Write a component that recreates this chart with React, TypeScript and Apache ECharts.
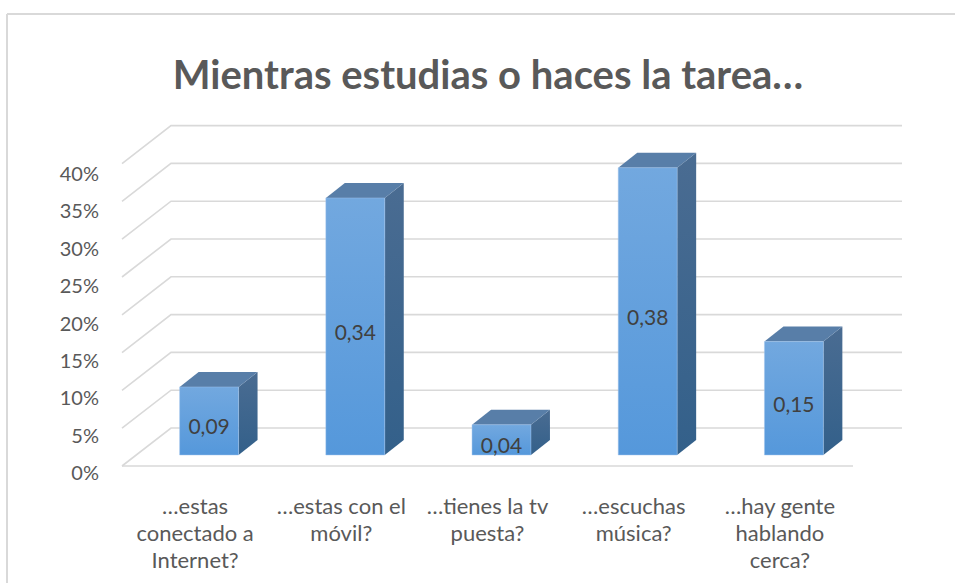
import React, { useEffect, useRef } from "react";
import * as echarts from "echarts";

const categories = [
  "…estas\nconectado a\nInternet?",
  "…estas con el\nmóvil?",
  "…tienes la tv\npuesta?",
  "…escuchas\nmúsica?",
  "…hay gente\nhablando\ncerca?",
];
const values = [0.09, 0.34, 0.04, 0.38, 0.15];
const gridValues = [0, 0.05, 0.1, 0.15, 0.2, 0.25, 0.3, 0.35, 0.4];
const titleText = "Mientras estudias o haces la tarea…";

const FONT = "Lato, 'Open Sans', sans-serif";
// depth vectors (pixel offsets) for the pseudo-3D look
const FRONT = [-14, 11]; // bar plane -> front floor edge
const BACK = [35, -27]; // bar plane -> back wall
const BAR_DEPTH = [19, -15];

export default function App() {
  const ref = useRef<HTMLDivElement>(null);
  useEffect(() => {
    if (!ref.current) return;
    const chart = echarts.init(ref.current, null, { renderer: "svg" });
    const n = categories.length;
    const option: any = {
      animation: false,
      backgroundColor: "#ffffff",
      grid: [
        { left: 136, top: 152.6, width: 731, height: 302.4 },
        { left: 122, top: 173, width: 731, height: 299 },
      ],
      xAxis: [
        { type: "category", gridIndex: 0, data: categories, show: false },
        {
          type: "category",
          gridIndex: 1,
          data: categories,
          axisLine: { show: false },
          axisTick: { show: false },
          axisLabel: {
            interval: 0,
            fontSize: 22,
            lineHeight: 27,
            margin: 20,
            color: "#595959",
            fontFamily: FONT,
          },
        },
      ],
      yAxis: [
        { type: "value", gridIndex: 0, min: 0, max: 0.4, show: false },
        {
          type: "value",
          gridIndex: 1,
          min: 0,
          max: 0.4,
          interval: 0.05,
          axisLine: { show: false },
          axisTick: { show: false },
          splitLine: { show: false },
          axisLabel: {
            margin: 23,
            fontSize: 20,
            color: "#595959",
            fontFamily: FONT,
            formatter: (v: number) => Math.round(v * 100) + "%",
          },
        },
      ],
      series: [
        {
          type: "custom",
          name: "grid",
          xAxisIndex: 0,
          yAxisIndex: 0,
          z: 1,
          silent: true,
          data: gridValues.map((v) => [0, v]),
          renderItem: (params: any, api: any) => {
            const v = api.value(1);
            const p = api.coord([0, v]);
            const band = api.size([1, 0])[0];
            const leftX = p[0] - band / 2;
            const rightX = leftX + n * band;
            const y = p[1];
            const style = { stroke: "#d9d9d9", lineWidth: 1.6, fill: null };
            const children: any[] = [
              {
                type: "polyline",
                shape: {
                  points: [
                    [leftX + FRONT[0], y + FRONT[1]],
                    [leftX + BACK[0], y + BACK[1]],
                    [rightX + BACK[0], y + BACK[1]],
                  ],
                },
                style,
              },
            ];
            if (v === 0) {
              children.push({
                type: "line",
                shape: {
                  x1: leftX + FRONT[0],
                  y1: y + FRONT[1],
                  x2: rightX + FRONT[0],
                  y2: y + FRONT[1],
                },
                style,
              });
            }
            return { type: "group", children };
          },
        },
        {
          type: "custom",
          name: "bars",
          xAxisIndex: 0,
          yAxisIndex: 0,
          z: 5,
          data: values.map((v, i) => [i, v]),
          renderItem: (params: any, api: any) => {
            const i = api.value(0);
            const v = api.value(1);
            const base = api.coord([i, 0]);
            const top = api.coord([i, v]);
            const band = api.size([1, 0])[0];
            const w = band * 0.403;
            const xL = base[0] - w / 2;
            const xR = base[0] + w / 2;
            const yB = base[1];
            const yT = top[1];
            const dx = BAR_DEPTH[0];
            const dy = BAR_DEPTH[1];
            const label = v.toFixed(2).replace(".", ",");
            return {
              type: "group",
              children: [
                {
                  type: "polygon",
                  shape: {
                    points: [
                      [xR, yB],
                      [xR, yT],
                      [xR + dx, yT + dy],
                      [xR + dx, yB + dy],
                    ],
                  },
                  style: {
                    fill: new echarts.graphic.LinearGradient(0, 0, 0, 1, [
                      { offset: 0, color: "#4a6c92" },
                      { offset: 1, color: "#33608a" },
                    ]),
                  },
                },
                {
                  type: "polygon",
                  shape: {
                    points: [
                      [xL, yT],
                      [xR, yT],
                      [xR + dx, yT + dy],
                      [xL + dx, yT + dy],
                    ],
                  },
                  style: { fill: "#587ea8" },
                },
                {
                  type: "rect",
                  shape: { x: xL, y: yT, width: w, height: yB - yT },
                  style: {
                    fill: new echarts.graphic.LinearGradient(0, 0, 0, 1, [
                      { offset: 0, color: "#72a8df" },
                      { offset: 1, color: "#5598db" },
                    ]),
                    stroke: "rgba(160,196,235,0.6)",
                    lineWidth: 0.8,
                  },
                },
                {
                  type: "text",
                  style: {
                    text: label,
                    x: base[0],
                    y: (yT + yB) / 2 + 5,
                    align: "center",
                    verticalAlign: "middle",
                    fontSize: 21,
                    fontFamily: FONT,
                    fill: "#404040",
                  },
                },
              ],
            };
          },
        },
      ],
      graphic: [
        {
          type: "text",
          x: 488,
          y: 74,
          style: {
            text: titleText,
            align: "center",
            verticalAlign: "middle",
            fontSize: 40,
            fontWeight: "bold",
            fontFamily: FONT,
            fill: "#595959",
          },
        },
        {
          type: "line",
          shape: { x1: 7, y1: 14, x2: 955, y2: 14 },
          style: { stroke: "#d9d9d9", lineWidth: 2 },
        },
        {
          type: "line",
          shape: { x1: 7, y1: 14, x2: 7, y2: 583 },
          style: { stroke: "#d9d9d9", lineWidth: 2 },
        },
      ],
    };
    chart.setOption(option);
    return () => chart.dispose();
  }, []);
  return (
    <div
      ref={ref}
      style={{ position: "fixed", left: 0, top: 0, width: 955, height: 583 }}
    />
  );
}
